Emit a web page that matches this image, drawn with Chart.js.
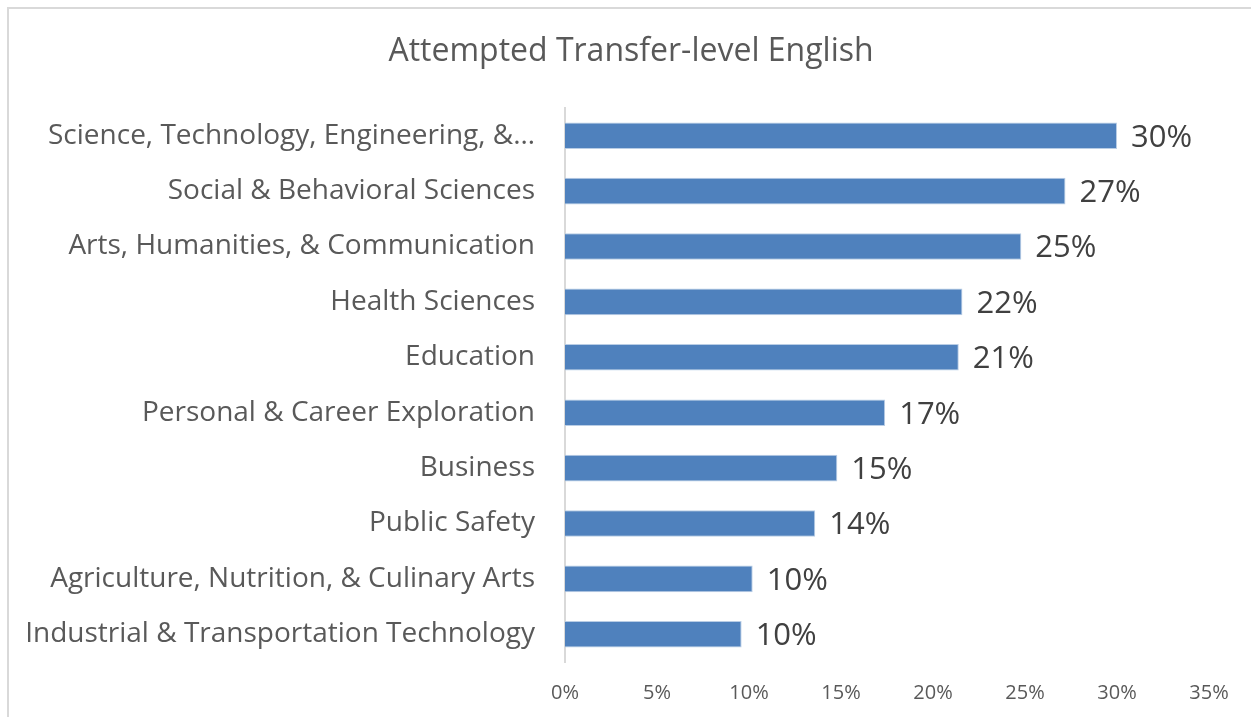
<!DOCTYPE html>
<html>
<head>
<meta charset="utf-8">
<script src="https://cdn.jsdelivr.net/npm/chart.js@4"></script>
<style>
  body { margin: 0; background: #fff; }
  #wrap { position: relative; width: 1251px; height: 717px; overflow: hidden; }
  #frame { position: absolute; left: 7px; top: 7px; width: 1300px; height: 800px;
           border-left: 2px solid #d9d9d9; border-top: 2px solid #d9d9d9; }
  canvas { position: absolute; left: 0; top: 0; }
</style>
</head>
<body>
<div id="wrap">
  <div id="frame"></div>
  <canvas id="chart" width="1251" height="717"></canvas>
</div>
<script>
const categories = [
  'Science, Technology, Engineering, &\u2026',
  'Social & Behavioral Sciences',
  'Arts, Humanities, & Communication',
  'Health Sciences',
  'Education',
  'Personal & Career Exploration',
  'Business',
  'Public Safety',
  'Agriculture, Nutrition, & Culinary Arts',
  'Industrial & Transportation Technology'
];
const values = [30.0, 27.2, 24.8, 21.6, 21.4, 17.4, 14.8, 13.6, 10.2, 9.6];
const xTicks = [0, 5, 10, 15, 20, 25, 30, 35];
const chartTitle = 'Attempted Transfer-level English';

const FONT = "'Open Sans', sans-serif";

// title (centred on the whole frame) and the value labels at bar ends
const barLabels = {
  id: 'barLabels',
  afterDatasetsDraw(chart) {
    const ctx = chart.ctx;
    const meta = chart.getDatasetMeta(0);
    ctx.save();
    ctx.font = '32px ' + FONT;
    ctx.fillStyle = '#595959';
    ctx.textAlign = 'center';
    ctx.textBaseline = 'middle';
    ctx.fillText(chartTitle, 631, 52);

    ctx.font = '31px ' + FONT;
    ctx.fillStyle = '#404040';
    ctx.textAlign = 'left';
    meta.data.forEach(function (bar, i) {
      ctx.fillText(Math.round(values[i]) + '%', bar.x + 14, bar.y + 2);
    });
    ctx.restore();
  }
};

const ctx = document.getElementById('chart').getContext('2d');
const myChart = new Chart(ctx, {
  type: 'bar',
  data: {
    labels: categories,
    datasets: [{
      data: values,
      backgroundColor: '#4f81bd',
      borderColor: '#b9cde5',
      borderWidth: 1,
      categoryPercentage: 1,
      barPercentage: 0.48
    }]
  },
  options: {
    indexAxis: 'y',
    responsive: false,
    animation: false,
    layout: { padding: { left: 8, right: 42, top: 108, bottom: 0 } },
    plugins: {
      legend: { display: false },
      tooltip: { enabled: false },
      title: { display: false }
    },
    scales: {
      x: {
        min: 0,
        max: 35,
        afterBuildTicks: function (scale) {
          scale.ticks = xTicks.map(function (v) { return { value: v }; });
        },
        afterFit: function (scale) { scale.height = 55; },
        grid: { display: false, drawTicks: false },
        border: { display: false },
        ticks: {
          color: '#595959',
          font: { family: FONT, size: 20 },
          padding: 19,
          maxRotation: 0,
          callback: function (v) { return v + '%'; }
        }
      },
      y: {
        afterFit: function (scale) { scale.width = 557; },
        grid: { display: false, drawTicks: false },
        border: { display: true, color: '#d9d9d9', width: 2 },
        ticks: {
          color: '#595959',
          font: { family: FONT, size: 28 },
          padding: 30
        }
      }
    }
  },
  plugins: [barLabels]
});
</script>
</body>
</html>
